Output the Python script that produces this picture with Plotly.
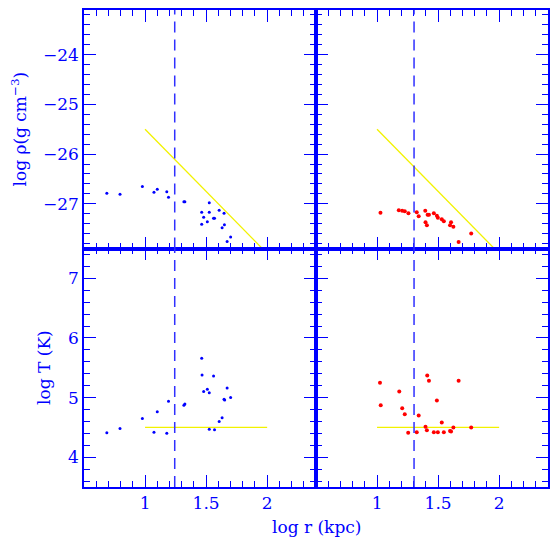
import plotly.graph_objects as go
from plotly.subplots import make_subplots

# ---- left column (blue): radius and density / temperature ----
r_blue_rho = [0.687, 0.795, 0.978, 1.073, 1.100, 1.178, 1.192, 1.318, 1.326, 1.526,
              1.464, 1.526, 1.480, 1.510, 1.464, 1.561, 1.569, 1.607, 1.647, 1.650,
              1.631, 1.701, 1.672]
rho_blue = [-26.79, -26.81, -26.65, -26.77, -26.71, -26.76, -26.87, -26.96, -26.96, -26.98,
            -27.17, -27.17, -27.27, -27.36, -27.41, -27.29, -27.29, -27.13, -27.19, -27.42,
            -27.48, -27.67, -27.76]

r_blue_T = [0.687, 0.795, 0.978, 1.100, 1.073, 1.178, 1.192, 1.318, 1.326, 1.464,
            1.467, 1.480, 1.510, 1.526, 1.561, 1.526, 1.569, 1.672, 1.647, 1.652,
            1.701, 1.607, 1.631]
T_blue = [4.41, 4.48, 4.65, 4.76, 4.42, 4.40, 4.94, 4.87, 4.89, 5.66,
          5.38, 5.10, 5.14, 5.08, 5.36, 4.47, 4.46, 5.16, 4.97, 4.96,
          5.00, 4.60, 4.66]

# ---- right column (red) ----
r_red_rho = [1.028, 1.178, 1.206, 1.227, 1.257, 1.325, 1.341, 1.395, 1.414, 1.425,
             1.397, 1.408, 1.465, 1.490, 1.498, 1.530, 1.547, 1.606, 1.598, 1.625,
             1.771, 1.668]
rho_red = [-27.18, -27.13, -27.14, -27.15, -27.19, -27.17, -27.25, -27.14, -27.22, -27.22,
           -27.37, -27.43, -27.19, -27.24, -27.28, -27.31, -27.35, -27.37, -27.43, -27.46,
           -27.60, -27.77]

r_red_T = [1.024, 1.030, 1.182, 1.206, 1.227, 1.255, 1.325, 1.341, 1.411, 1.425,
           1.397, 1.408, 1.490, 1.465, 1.498, 1.530, 1.547, 1.598, 1.606, 1.625,
           1.668, 1.771]
T_red = [5.25, 4.87, 5.10, 4.82, 4.72, 4.41, 4.42, 4.70, 5.37, 5.28,
         4.51, 4.45, 4.95, 4.42, 4.42, 4.58, 4.42, 4.44, 4.43, 4.50,
         5.28, 4.50]

# reference relations (yellow)
ref_r = [1.0, 2.0]
ref_rho = [-25.5, -28.0]
ref_T = [4.5, 4.5]

# dashed markers of characteristic radius
r_mark_left = 1.243
r_mark_right = 1.303

# axis ticks
x_ticks = [1, 1.5, 2]
x_range = [0.5, 2.4]
rho_ticks = [-27, -26, -25, -24]
rho_range = [-27.9, -23.1]
T_ticks = [4, 5, 6, 7]
T_range = [3.5, 7.5]

BLUE = "#0000ff"
RED = "#ff0000"
YELLOW = "#f2f200"
FONT = "DejaVu Serif"

fig = make_subplots(rows=2, cols=2, horizontal_spacing=0, vertical_spacing=0)

fig.add_trace(go.Scatter(x=ref_r, y=ref_rho, mode="lines",
                         line=dict(color=YELLOW, width=1.3)), row=1, col=1)
fig.add_trace(go.Scatter(x=ref_r, y=ref_rho, mode="lines",
                         line=dict(color=YELLOW, width=1.3)), row=1, col=2)
fig.add_trace(go.Scatter(x=ref_r, y=ref_T, mode="lines",
                         line=dict(color=YELLOW, width=1.3)), row=2, col=1)
fig.add_trace(go.Scatter(x=ref_r, y=ref_T, mode="lines",
                         line=dict(color=YELLOW, width=1.3)), row=2, col=2)

fig.add_trace(go.Scatter(x=r_blue_rho, y=rho_blue, mode="markers",
                         marker=dict(color=BLUE, size=3)), row=1, col=1)
fig.add_trace(go.Scatter(x=r_blue_T, y=T_blue, mode="markers",
                         marker=dict(color=BLUE, size=3)), row=2, col=1)
fig.add_trace(go.Scatter(x=r_red_rho, y=rho_red, mode="markers",
                         marker=dict(color=RED, size=4)), row=1, col=2)
fig.add_trace(go.Scatter(x=r_red_T, y=T_red, mode="markers",
                         marker=dict(color=RED, size=4)), row=2, col=2)

# vertical dashed lines spanning both rows of each column
for xref, yrefs, xv in (("x3", ("y3", "y"), r_mark_left), ("x4", ("y4", "y2"), r_mark_right)):
    for yr in yrefs:
        fig.add_shape(type="line", xref=xref, yref=yr + " domain",
                      x0=xv, x1=xv, y0=0, y1=1,
                      line=dict(color="#3030ff", width=1.5, dash="11px,7px"))

axis_common = dict(
    showgrid=False, zeroline=False, showline=True, linecolor=BLUE, linewidth=1.5,
    mirror="allticks", ticks="inside", ticklen=12, tickwidth=1.3, tickcolor=BLUE,
    tickfont=dict(family=FONT, size=17, color=BLUE),
)

for row in (1, 2):
    for col in (1, 2):
        fig.update_xaxes(
            range=x_range, tickvals=x_ticks, ticktext=["1", "1.5", "2"],
            showticklabels=(row == 2),
            minor=dict(ticks="inside", ticklen=6, tickwidth=1.3, tickcolor=BLUE,
                       dtick=0.1, tick0=0),
            **axis_common, row=row, col=col)
        if row == 1:
            fig.update_yaxes(
                range=rho_range, tickvals=rho_ticks, showticklabels=(col == 1),
                minor=dict(ticks="inside", ticklen=6, tickwidth=1.3, tickcolor=BLUE,
                           dtick=0.2, tick0=0),
                **axis_common, row=row, col=col)
        else:
            fig.update_yaxes(
                range=T_range, tickvals=T_ticks, showticklabels=(col == 1),
                minor=dict(ticks="inside", ticklen=6, tickwidth=1.3, tickcolor=BLUE,
                           dtick=0.2, tick0=0),
                **axis_common, row=row, col=col)

W, H = 551, 543
ML, MR, MT, MB = 84, 1, 10, 56
pw = W - ML - MR
ph = H - MT - MB

title_font = dict(family=FONT, size=17, color=BLUE)
fig.add_annotation(text="log ρ(g cm<sup>−3</sup>)", xref="paper", yref="paper",
                   x=-(ML - 19) / pw, y=0.75, textangle=-90, showarrow=False,
                   xanchor="center", yanchor="middle", font=title_font)
fig.add_annotation(text="log T (K)", xref="paper", yref="paper",
                   x=-(ML - 44) / pw, y=0.25, textangle=-90, showarrow=False,
                   xanchor="center", yanchor="middle", font=title_font)
fig.add_annotation(text="log r (kpc)", xref="paper", yref="paper",
                   x=(318 - ML) / pw, y=-(527 - (H - MB)) / ph, showarrow=False,
                   xanchor="center", yanchor="middle", font=title_font)

fig.update_layout(
    width=W, height=H, showlegend=False,
    margin=dict(l=ML, r=MR, t=MT, b=MB),
    paper_bgcolor="white", plot_bgcolor="white",
)

fig.write_html("out.html")
